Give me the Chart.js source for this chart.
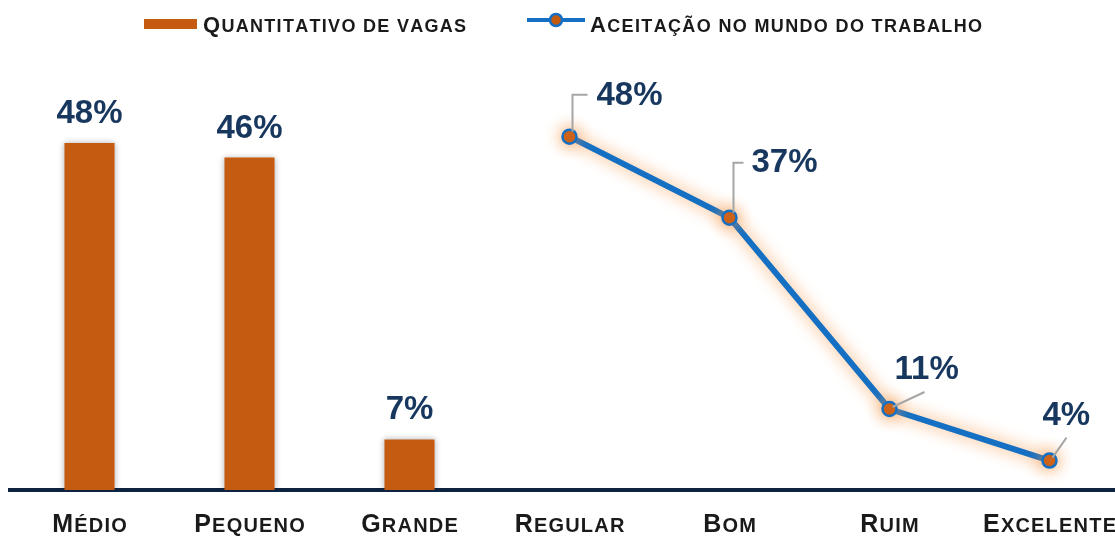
<!DOCTYPE html>
<html>
<head>
<meta charset="utf-8">
<script src="https://cdn.jsdelivr.net/npm/chart.js@4/dist/chart.umd.min.js"></script>
<style>
  html, body { margin: 0; padding: 0; background: #ffffff; overflow: hidden; }
  #wrap { position: absolute; left: 0; top: 0; width: 1139px; height: 538px; }
</style>
</head>
<body>
<div id="wrap"><canvas id="c" width="1139" height="538"></canvas></div>
<script>
// ---- data ----
const categories = ['Médio', 'Pequeno', 'Grande', 'Regular', 'Bom', 'Ruim', 'Excelente'];
const seriesNames = ['Quantitativo de vagas', 'Aceitação no mundo do trabalho'];
const vagasValues = [48, 46, 7, null, null, null, null];
const aceitacaoValues = [null, null, null, 48, 37, 11, 4];

// ---- styles ----
const ORANGE = '#C55A11';
const BLUE = '#1570C4';
const NAVY = '#17375E';
const TEXT = '#1A1A1A';
const FONT = '"Liberation Sans", Arial, sans-serif';

// leader line / label placement for the line series (relative to each point)
const lineLabelLayout = [
  null, null, null,
  { path: [[3, -5], [3, -42], [18, -42]], dx: 27, dy: -41 },
  { path: [[4, -5], [4, -55], [14, -55]], dx: 22, dy: -55 },
  { path: [[3, -2], [35, -17]], dx: 5, dy: -39 },
  { path: [[3, -3], [17, -23]], dx: -7, dy: -45 }
];

// draw text in small caps: uppercase source chars big, lowercase chars as small capitals
function smallCapsWidth(ctx, text, big, small, spacing) {
  let w = 0;
  for (const ch of text) {
    const isUpper = ch !== ch.toLowerCase();
    ctx.font = 'bold ' + (isUpper ? big : small) + 'px ' + FONT;
    w += ctx.measureText(ch.toUpperCase()).width + spacing;
  }
  return w - spacing;
}
function drawSmallCaps(ctx, text, x, y, big, small, spacing, align) {
  let w = smallCapsWidth(ctx, text, big, small, spacing);
  let cx = align === 'center' ? x - w / 2 : x;
  ctx.textAlign = 'left';
  ctx.textBaseline = 'alphabetic';
  for (const ch of text) {
    const isUpper = ch !== ch.toLowerCase();
    ctx.font = 'bold ' + (isUpper ? big : small) + 'px ' + FONT;
    const u = ch.toUpperCase();
    ctx.fillText(u, cx, y);
    cx += ctx.measureText(u).width + spacing;
  }
}

const effectsPlugin = {
  id: 'effects',
  beforeDatasetDraw(chart, args) {
    const ctx = chart.ctx;
    ctx.save();
    if (args.index === 1) {
      ctx.shadowColor = 'rgba(245,150,70,0.9)';
      ctx.shadowBlur = 16;
    } else {
      ctx.shadowColor = 'rgba(0,0,0,0.30)';
      ctx.shadowBlur = 6;
    }
  },
  afterDatasetDraw(chart) {
    chart.ctx.restore();
  },
  afterDraw(chart) {
    const ctx = chart.ctx;
    const xs = chart.scales.x;
    ctx.save();
    // category labels
    ctx.fillStyle = TEXT;
    categories.forEach((c, i) => {
      drawSmallCaps(ctx, c, xs.getPixelForValue(i), 532, 25, 20, 1.2, 'center');
    });

    // bar value labels
    const barMeta = chart.getDatasetMeta(0);
    ctx.fillStyle = NAVY;
    ctx.font = 'bold 33px ' + FONT;
    ctx.textAlign = 'center';
    ctx.textBaseline = 'alphabetic';
    barMeta.data.forEach((el, i) => {
      const v = vagasValues[i];
      if (v == null) return;
      ctx.fillText(v + '%', el.x, el.y - 20);
    });

    // line value labels with leader lines
    const lineMeta = chart.getDatasetMeta(1);
    lineMeta.data.forEach((el, i) => {
      const v = aceitacaoValues[i];
      const lay = lineLabelLayout[i];
      if (v == null || !lay) return;
      ctx.strokeStyle = '#A6A6A6';
      ctx.lineWidth = 2;
      ctx.beginPath();
      lay.path.forEach((p, k) => {
        if (k === 0) ctx.moveTo(el.x + p[0], el.y + p[1]);
        else ctx.lineTo(el.x + p[0], el.y + p[1]);
      });
      ctx.stroke();
      ctx.fillStyle = NAVY;
      ctx.font = 'bold 33px ' + FONT;
      ctx.textAlign = 'left';
      ctx.textBaseline = 'middle';
      ctx.fillText(v + '%', el.x + lay.dx, el.y + lay.dy);
    });

    // legend
    ctx.fillStyle = ORANGE;
    ctx.fillRect(144, 19, 53, 10);
    ctx.fillStyle = TEXT;
    drawSmallCaps(ctx, seriesNames[0], 203, 32, 22, 18, 1.3, 'left');

    ctx.strokeStyle = BLUE;
    ctx.lineWidth = 4;
    ctx.beginPath();
    ctx.moveTo(527, 20);
    ctx.lineTo(585, 20);
    ctx.stroke();
    ctx.beginPath();
    ctx.arc(556, 20, 6, 0, Math.PI * 2);
    ctx.fillStyle = ORANGE;
    ctx.fill();
    ctx.lineWidth = 2.5;
    ctx.stroke();
    ctx.fillStyle = TEXT;
    drawSmallCaps(ctx, seriesNames[1], 590, 32, 22, 18, 1.35, 'left');
    ctx.restore();
  }
};

new Chart(document.getElementById('c'), {
  data: {
    labels: categories,
    datasets: [
      {
        type: 'bar',
        label: seriesNames[0],
        data: vagasValues,
        backgroundColor: ORANGE,
        barPercentage: 1,
        categoryPercentage: 0.313,
        yAxisID: 'y',
        order: 2
      },
      {
        type: 'line',
        label: seriesNames[1],
        data: aceitacaoValues,
        borderColor: BLUE,
        borderWidth: 6,
        pointRadius: 7,
        pointBackgroundColor: ORANGE,
        pointBorderColor: BLUE,
        pointBorderWidth: 2.5,
        tension: 0,
        spanGaps: false,
        yAxisID: 'y1',
        order: 1,
        clip: false
      }
    ]
  },
  options: {
    responsive: false,
    animation: false,
    layout: { padding: { top: 52, left: 9, right: 1, bottom: 0 } },
    plugins: { legend: { display: false }, tooltip: { enabled: false } },
    scales: {
      x: {
        grid: { display: false },
        ticks: { display: false },
        border: { display: true, color: '#0E2340', width: 4 },
        afterFit(scale) { scale.height = 48; }
      },
      y: { display: false, min: 0, max: 60.6 },
      y1: { display: false, min: 0, max: 59.5 }
    }
  },
  plugins: [effectsPlugin]
});
</script>
</body>
</html>
